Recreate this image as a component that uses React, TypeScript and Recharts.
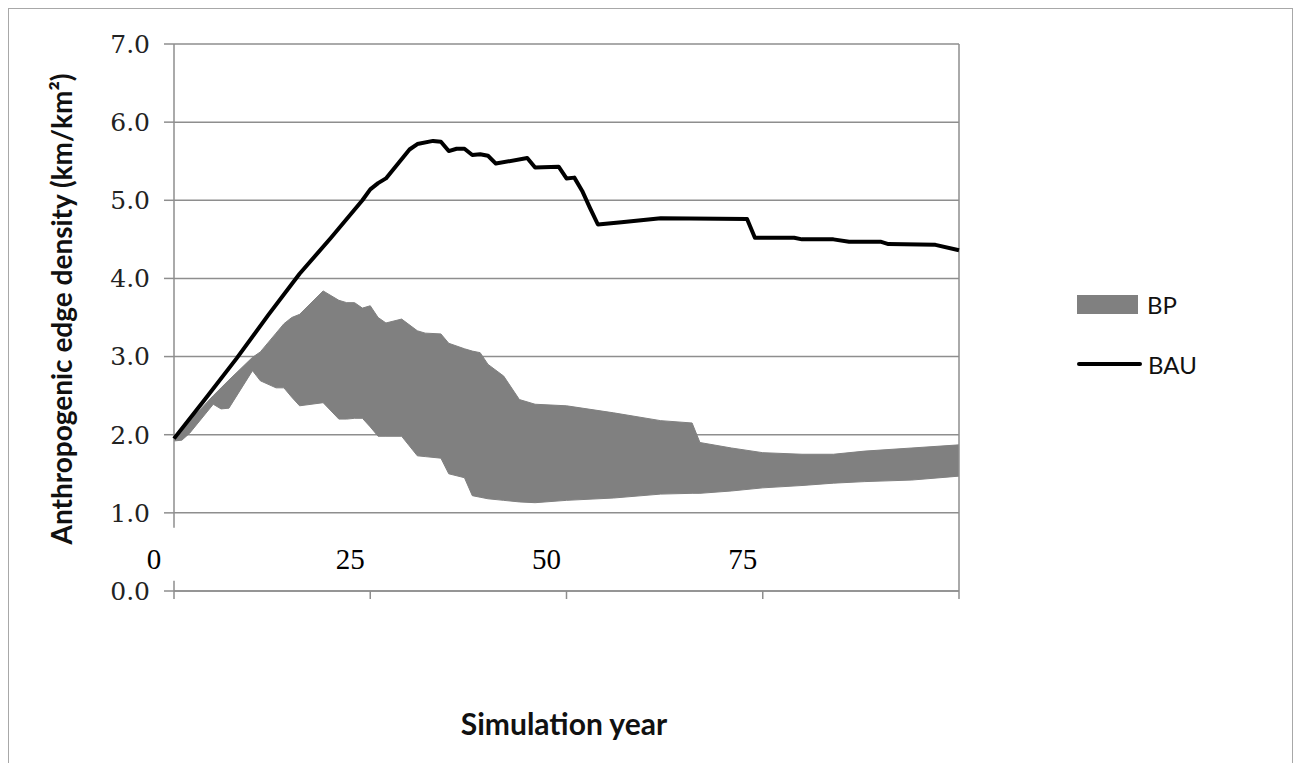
import React from "react";
import {
  ComposedChart,
  Area,
  Line,
  XAxis,
  YAxis,
  CartesianGrid,
  ReferenceLine,
} from "recharts";

// BAU trajectory (year, density)
const bauYears = [0, 4, 8, 12, 16, 20, 24, 25, 26, 27, 30, 31, 33, 34, 35, 36, 37, 38, 39, 40, 41, 45, 46, 49, 50, 51, 52, 53, 54, 57, 62, 73, 74, 79, 80, 84, 86, 90, 91, 97, 100];
const bauValues = [1.95, 2.46, 2.98, 3.53, 4.06, 4.52, 5.0, 5.14, 5.22, 5.28, 5.65, 5.72, 5.76, 5.75, 5.63, 5.66, 5.66, 5.58, 5.59, 5.57, 5.47, 5.54, 5.42, 5.43, 5.28, 5.29, 5.12, 4.9, 4.69, 4.72, 4.77, 4.76, 4.52, 4.52, 4.5, 4.5, 4.47, 4.47, 4.44, 4.43, 4.36];

// BP envelope: lower and upper bounds
const bpYears = [0, 1, 2, 5, 6, 7, 10, 11, 13, 14, 15, 16, 19, 21, 22, 23, 24, 25, 26, 27, 29, 31, 32, 34, 35, 37, 38, 39, 40, 42, 44, 46, 50, 56, 62, 66, 67, 71, 75, 80, 84, 88, 94, 100];
const bpLow = [1.92, 1.93, 2.02, 2.39, 2.33, 2.34, 2.82, 2.69, 2.6, 2.6, 2.48, 2.37, 2.41, 2.2, 2.2, 2.21, 2.21, 2.1, 1.98, 1.98, 1.98, 1.73, 1.72, 1.7, 1.5, 1.45, 1.22, 1.2, 1.18, 1.16, 1.14, 1.13, 1.16, 1.19, 1.24, 1.25, 1.25, 1.28, 1.32, 1.35, 1.38, 1.4, 1.42, 1.47];
const bpHigh = [1.98, 2.08, 2.18, 2.5, 2.6, 2.7, 2.99, 3.06, 3.3, 3.42, 3.5, 3.54, 3.84, 3.72, 3.69, 3.69, 3.62, 3.65, 3.5, 3.43, 3.48, 3.33, 3.3, 3.29, 3.17, 3.1, 3.07, 3.05, 2.9, 2.75, 2.45, 2.39, 2.37, 2.28, 2.18, 2.15, 1.9, 1.83, 1.77, 1.75, 1.75, 1.79, 1.83, 1.87];

const yTicks = [0, 1, 2, 3, 4, 5, 6, 7];
const xTicks = [0, 25, 50, 75, 100];
const xTickLabels: Record<number, string> = { 0: "0", 25: "25", 50: "50", 75: "75" };

const bauRows = bauYears.map((year, i) => ({ year, bau: bauValues[i] }));
const bpRows = bpYears.map((year, i) => ({ year, bp: [bpLow[i], bpHigh[i]] }));

const GRID = "#8e8e8e";

function XTick(props: any) {
  const { x, y, payload } = props;
  const label = xTickLabels[payload.value];
  if (label === undefined) return null;
  return (
    <text
      x={x - 20}
      y={y - 30}
      textAnchor="middle"
      fontFamily="'Liberation Serif', 'Times New Roman', serif"
      fontSize={29}
      fill="#000"
    >
      {label}
    </text>
  );
}

function LegendBox() {
  const text = { fontFamily: "Lato, sans-serif", fontSize: 24, color: "#111" };
  return (
    <div style={{ position: "absolute", left: 1068, top: 285, width: 160 }}>
      <div style={{ display: "flex", alignItems: "center", height: 20 }}>
        <div style={{ width: 61, height: 19, background: "#808080", marginRight: 9 }} />
        <span style={text}>BP</span>
      </div>
      <div style={{ display: "flex", alignItems: "center", height: 20, marginTop: 40 }}>
        <div style={{ width: 65, height: 4, background: "#000", borderRadius: 2, marginRight: 6 }} />
        <span style={text}>BAU</span>
      </div>
    </div>
  );
}

export default function App() {
  return (
    <div
      style={{
        position: "relative",
        width: 1285,
        height: 770,
        border: "1px solid #a8a8a8",
        boxSizing: "border-box",
        background: "#fff",
      }}
    >
      <ComposedChart width={1285} height={770} margin={{ top: 35, right: 335, bottom: 0, left: 0 }}>
        <CartesianGrid horizontal vertical={false} stroke={GRID} strokeWidth={1.5} />
        <XAxis
          dataKey="year"
          type="number"
          domain={[0, 100]}
          ticks={xTicks}
          allowDuplicatedCategory={false}
          height={188}
          tickSize={8}
          tickMargin={0}
          stroke={GRID}
          strokeWidth={1.5}
          tick={<XTick />}
          label={{
            content: () => (
              <text
                x={555}
                y={714}
                textAnchor="middle"
                dominantBaseline="central"
                fontFamily="Lato, sans-serif"
                fontWeight={700}
                fontSize={30}
                fill="#111"
              >
                Simulation year
              </text>
            ),
          }}
        />
        <YAxis
          type="number"
          domain={[0, 7]}
          ticks={yTicks}
          width={165}
          tickSize={10}
          tickMargin={14}
          axisLine={false}
          stroke={GRID}
          strokeWidth={1.5}
          tickFormatter={(v: number) => v.toFixed(1)}
          tick={{ fontFamily: "'DejaVu Serif', serif", fontSize: 25, fill: "#222" }}
          label={{
            content: () => (
              <text
                x={52}
                y={300}
                transform="rotate(-90 52 300)"
                textAnchor="middle"
                dominantBaseline="central"
                fontFamily="Lato, sans-serif"
                fontWeight={700}
                fontSize={28}
                fill="#111"
              >
                Anthropogenic edge density (km/km²)
              </text>
            ),
          }}
        />
        {/* left axis, broken where the year labels sit */}
        <ReferenceLine segment={[{ x: 0, y: 7 }, { x: 0, y: 0.81 }]} stroke={GRID} strokeWidth={1.5} />
        <ReferenceLine segment={[{ x: 0, y: 0.13 }, { x: 0, y: 0 }]} stroke={GRID} strokeWidth={1.5} />
        <ReferenceLine x={100} stroke={GRID} strokeWidth={1.5} />
        <Area
          data={bpRows}
          dataKey="bp"
          name="BP"
          type="linear"
          fill="#808080"
          fillOpacity={1}
          stroke="#808080"
          strokeWidth={1}
          isAnimationActive={false}
        />
        <Line
          data={bauRows}
          dataKey="bau"
          name="BAU"
          type="linear"
          stroke="#000"
          strokeWidth={4}
          dot={false}
          strokeLinejoin="round"
          isAnimationActive={false}
        />
      </ComposedChart>
      <LegendBox />
    </div>
  );
}
